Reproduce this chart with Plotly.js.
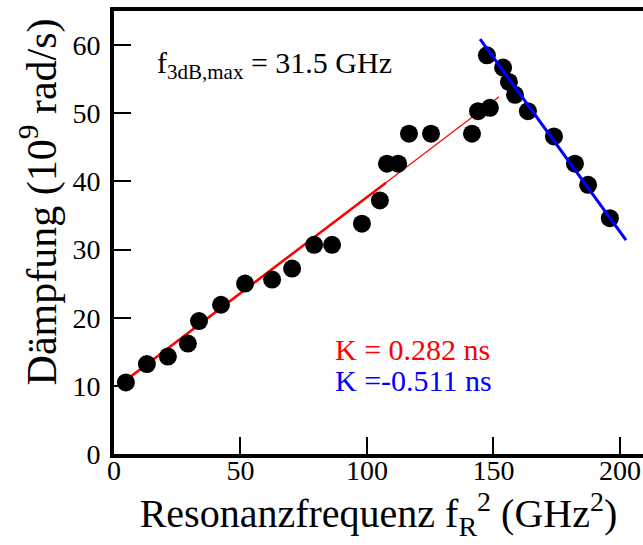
<!DOCTYPE html>
<html>
<head>
<meta charset="utf-8">
<script src="https://cdn.plot.ly/plotly-3.0.1.min.js"></script>
<style>
  html, body { margin: 0; padding: 0; background: #fff; }
  #chart { width: 643px; height: 545px; }
</style>
</head>
<body>
<div id="chart"></div>
<script>
// Measured damping vs. squared resonance frequency
const fR2 = [4.7, 13.0, 21.3, 29.2, 33.6, 42.3, 51.8, 62.5, 70.4, 79.1, 86.2, 98.0, 105.1,
             107.9, 112.3, 116.6, 125.3, 141.5, 143.9, 148.6,
             147.4, 153.8, 156.1, 158.5, 163.6, 173.9, 182.2, 187.4, 196.0];
const daempfung = [10.5, 13.2, 14.3, 16.2, 19.5, 21.9, 25.0, 25.6, 27.2, 30.7, 30.7, 33.8, 37.2,
                   42.6, 42.6, 47.0, 47.0, 47.0, 50.3, 50.8,
                   58.5, 56.7, 54.6, 52.7, 50.3, 46.6, 42.6, 39.5, 34.6];

// Linear fits: K factor (slope, ns) and offset (10^9 rad/s)
const kRise = 0.282, offsetRise = 9.5;
const kFall = -0.511, offsetFall = 134.8;
const riseX = [4.3, 152.2];        // thin fit line extent
const riseBoldX = [4.3, 107.5];    // bold part of the rising fit
const fallX = [144.7, 202.4];

const xTicks = [0, 50, 100, 150, 200];
const yTicks = [0, 10, 20, 30, 40, 50, 60];

const lineY = (xs, k, b) => xs.map(x => k * x + b);

const serif = '"Liberation Serif", "Times New Roman", serif';

const traces = [
  { x: riseX, y: lineY(riseX, kRise, offsetRise), mode: 'lines',
    line: { color: '#ff0000', width: 1.2 }, hoverinfo: 'skip' },
  { x: riseBoldX, y: lineY(riseBoldX, kRise, offsetRise), mode: 'lines',
    line: { color: '#ff0000', width: 2.5 }, hoverinfo: 'skip' },
  { x: fR2, y: daempfung, mode: 'markers',
    marker: { color: '#000', size: 18 } },
  { x: fallX, y: lineY(fallX, kFall, offsetFall), mode: 'lines',
    line: { color: '#0000ff', width: 3 }, hoverinfo: 'skip' }
];

const layout = {
  width: 643, height: 545,
  margin: { l: 114, r: 0, t: 11, b: 91, pad: 0 },
  paper_bgcolor: '#fff', plot_bgcolor: '#fff',
  showlegend: false,
  font: { family: serif, color: '#000', size: 27 },
  xaxis: {
    range: [0, 209.1], tickvals: xTicks, ticktext: xTicks.map(String),
    ticks: 'inside', ticklen: 17, tickwidth: 2, tickcolor: '#000',
    showline: true, linewidth: 4, linecolor: '#000', mirror: true,
    showgrid: false, zeroline: false,
    tickfont: { family: serif, size: 28, color: '#000' },
    ticklabelstandoff: -12,
    title: { text: 'Resonanzfrequenz f<sub>R</sub><sup>2</sup> (GHz<sup>2</sup>)',
             font: { family: serif, size: 40, color: '#000' }, standoff: 0 }
  },
  yaxis: {
    range: [0, 65], tickvals: yTicks, ticktext: yTicks.map(String),
    ticks: 'inside', ticklen: 17, tickwidth: 2, tickcolor: '#000',
    showline: true, linewidth: 4, linecolor: '#000', mirror: false,
    showgrid: false, zeroline: false,
    tickfont: { family: serif, size: 28, color: '#000' },
    ticklabelstandoff: 4
  },
  annotations: [
    // y-axis title, placed a little above the plot centre
    { xref: 'paper', yref: 'paper', x: -0.14, y: 0.57, xanchor: 'center', yanchor: 'middle',
      textangle: -90, text: 'Dämpfung (10<sup>9</sup> rad/s)', showarrow: false,
      font: { family: serif, size: 42, color: '#000' } },
    { xref: 'paper', yref: 'paper', x: 0.078, y: 0.878, xanchor: 'left', yanchor: 'middle',
      text: 'f<sub>3dB,max</sub> = 31.5 GHz', showarrow: false,
      font: { family: serif, size: 30, color: '#000' } },
    { xref: 'paper', yref: 'paper', x: 0.414, y: 0.235, xanchor: 'left', yanchor: 'middle',
      text: 'K = 0.282 ns', showarrow: false,
      font: { family: serif, size: 30, color: '#ff0000' } },
    { xref: 'paper', yref: 'paper', x: 0.414, y: 0.165, xanchor: 'left', yanchor: 'middle',
      text: 'K =-0.511 ns', showarrow: false,
      font: { family: serif, size: 30, color: '#0000ff' } }
  ]
};

Plotly.newPlot('chart', traces, layout, { staticPlot: true, displayModeBar: false });
</script>
</body>
</html>
